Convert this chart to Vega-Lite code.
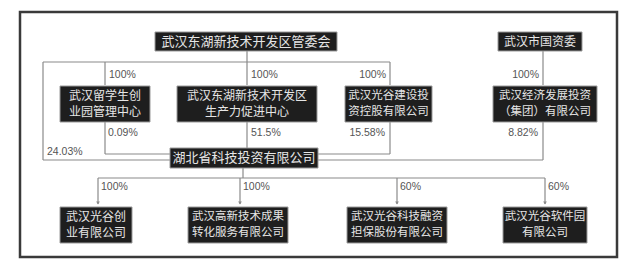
{
  "$schema": "https://vega.github.io/schema/vega-lite/v6.json",
  "width": 630,
  "height": 263,
  "padding": 0,
  "autosize": {"type": "fit", "contains": "padding"},
  "background": "#ffffff",
  "config": {"view": {"stroke": null}},
  "datasets": {
    "frame": [{"x": 20, "x2": 617, "y": 12, "y2": 257}],
    "lines": [
      {"x": 247, "x2": 247, "y": 51, "y2": 85},
      {"x": 43, "x2": 390, "y": 62, "y2": 62},
      {"x": 105, "x2": 105, "y": 62, "y2": 85},
      {"x": 390, "x2": 390, "y": 62, "y2": 85},
      {"x": 43, "x2": 43, "y": 62, "y2": 160},
      {"x": 43, "x2": 170, "y": 160, "y2": 160},
      {"x": 105, "x2": 105, "y": 122, "y2": 154},
      {"x": 105, "x2": 170, "y": 154, "y2": 154},
      {"x": 247, "x2": 247, "y": 122, "y2": 148},
      {"x": 390, "x2": 390, "y": 122, "y2": 154},
      {"x": 318, "x2": 390, "y": 154, "y2": 154},
      {"x": 543, "x2": 543, "y": 51, "y2": 85},
      {"x": 543, "x2": 543, "y": 122, "y2": 160},
      {"x": 318, "x2": 543, "y": 160, "y2": 160},
      {"x": 243, "x2": 243, "y": 168, "y2": 178},
      {"x": 98, "x2": 545, "y": 178, "y2": 178},
      {"x": 98, "x2": 98, "y": 178, "y2": 204},
      {"x": 240, "x2": 240, "y": 178, "y2": 204},
      {"x": 397, "x2": 397, "y": 178, "y2": 204},
      {"x": 545, "x2": 545, "y": 178, "y2": 204}
    ],
    "arrows": [
      {"x": 98, "y": 203},
      {"x": 240, "y": 203},
      {"x": 397, "y": 203},
      {"x": 545, "y": 203}
    ],
    "boxes": [
      {"x": 155, "x2": 337, "y": 32, "y2": 51, "cx": 246, "cy": 41.5, "n": 1, "l1": "武汉东湖新技术开发区管委会", "l2": "", "fs": 13},
      {"x": 498, "x2": 582, "y": 32, "y2": 51, "cx": 540, "cy": 41.5, "n": 1, "l1": "武汉市国资委", "l2": "", "fs": 12},
      {"x": 60, "x2": 150, "y": 86, "y2": 122, "cx": 105, "cy": 104, "n": 2, "l1": "武汉留学生创", "l2": "业园管理中心", "fs": 12},
      {"x": 177, "x2": 317, "y": 86, "y2": 122, "cx": 247, "cy": 104, "n": 2, "l1": "武汉东湖新技术开发区", "l2": "生产力促进中心", "fs": 12},
      {"x": 345, "x2": 432, "y": 86, "y2": 122, "cx": 388.5, "cy": 104, "n": 2, "l1": "武汉光谷建设投", "l2": "资控股有限公司", "fs": 11.5},
      {"x": 493, "x2": 597, "y": 86, "y2": 122, "cx": 545, "cy": 104, "n": 2, "l1": "武汉经济发展投资", "l2": "（集团）有限公司", "fs": 11.5},
      {"x": 170, "x2": 318, "y": 148, "y2": 168, "cx": 244, "cy": 158, "n": 1, "l1": "湖北省科技投资有限公司", "l2": "", "fs": 13},
      {"x": 60, "x2": 132, "y": 207, "y2": 243, "cx": 96, "cy": 225, "n": 2, "l1": "武汉光谷创", "l2": "业有限公司", "fs": 12},
      {"x": 188, "x2": 288, "y": 207, "y2": 243, "cx": 238, "cy": 225, "n": 2, "l1": "武汉高新技术成果", "l2": "转化服务有限公司", "fs": 11.5},
      {"x": 347, "x2": 447, "y": 207, "y2": 243, "cx": 397, "cy": 225, "n": 2, "l1": "武汉光谷科技融资", "l2": "担保股份有限公司", "fs": 11.5},
      {"x": 503, "x2": 587, "y": 207, "y2": 243, "cx": 545, "cy": 225, "n": 2, "l1": "武汉光谷软件园", "l2": "有限公司", "fs": 11.5}
    ],
    "pctLeft": [
      {"x": 109, "y": 75, "t": "100%"},
      {"x": 251, "y": 75, "t": "100%"},
      {"x": 108, "y": 133, "t": "0.09%"},
      {"x": 251, "y": 133, "t": "51.5%"},
      {"x": 47, "y": 152, "t": "24.03%"},
      {"x": 101, "y": 187, "t": "100%"},
      {"x": 243, "y": 187, "t": "100%"},
      {"x": 400, "y": 187, "t": "60%"},
      {"x": 548, "y": 187, "t": "60%"}
    ],
    "pctRight": [
      {"x": 386, "y": 75, "t": "100%"},
      {"x": 539, "y": 75, "t": "100%"},
      {"x": 385, "y": 133, "t": "15.58%"},
      {"x": 538, "y": 133, "t": "8.82%"}
    ]
  },
  "layer": [
    {
      "data": {"name": "frame"},
      "mark": {"type": "rect", "fill": null, "stroke": "#3a3a3a", "strokeWidth": 2.5},
      "encoding": {
        "x": {"field": "x", "type": "quantitative", "scale": {"domain": [0, 630], "nice": false, "zero": false}, "axis": null},
        "x2": {"field": "x2"},
        "y": {"field": "y", "type": "quantitative", "scale": {"domain": [263, 0], "nice": false, "zero": false}, "axis": null},
        "y2": {"field": "y2"}
      }
    },
    {
      "data": {"name": "lines"},
      "mark": {"type": "rule", "stroke": "#8a8a8a", "strokeWidth": 1.2},
      "encoding": {
        "x": {"field": "x", "type": "quantitative"},
        "x2": {"field": "x2"},
        "y": {"field": "y", "type": "quantitative"},
        "y2": {"field": "y2"}
      }
    },
    {
      "data": {"name": "arrows"},
      "mark": {"type": "point", "shape": "triangle-down", "filled": true, "color": "#8a8a8a", "size": 14, "opacity": 1},
      "encoding": {
        "x": {"field": "x", "type": "quantitative"},
        "y": {"field": "y", "type": "quantitative"}
      }
    },
    {
      "data": {"name": "boxes"},
      "mark": {"type": "rect", "fill": "#1e1e1e", "stroke": "#9a9a9a", "strokeWidth": 1},
      "encoding": {
        "x": {"field": "x", "type": "quantitative"},
        "x2": {"field": "x2"},
        "y": {"field": "y", "type": "quantitative"},
        "y2": {"field": "y2"}
      }
    },
    {
      "data": {"name": "boxes"},
      "transform": [{"filter": "datum.n == 1"}],
      "mark": {"type": "text", "color": "#e6e6e6", "font": "Noto Sans CJK SC", "align": "center", "baseline": "middle"},
      "encoding": {
        "x": {"field": "cx", "type": "quantitative"},
        "y": {"field": "cy", "type": "quantitative"},
        "text": {"field": "l1"},
        "size": {"field": "fs", "type": "quantitative", "scale": null}
      }
    },
    {
      "data": {"name": "boxes"},
      "transform": [{"filter": "datum.n == 2"}],
      "mark": {"type": "text", "color": "#e6e6e6", "font": "Noto Sans CJK SC", "align": "center", "baseline": "middle", "dy": -8},
      "encoding": {
        "x": {"field": "cx", "type": "quantitative"},
        "y": {"field": "cy", "type": "quantitative"},
        "text": {"field": "l1"},
        "size": {"field": "fs", "type": "quantitative", "scale": null}
      }
    },
    {
      "data": {"name": "boxes"},
      "transform": [{"filter": "datum.n == 2"}],
      "mark": {"type": "text", "color": "#e6e6e6", "font": "Noto Sans CJK SC", "align": "center", "baseline": "middle", "dy": 8},
      "encoding": {
        "x": {"field": "cx", "type": "quantitative"},
        "y": {"field": "cy", "type": "quantitative"},
        "text": {"field": "l2"},
        "size": {"field": "fs", "type": "quantitative", "scale": null}
      }
    },
    {
      "data": {"name": "pctLeft"},
      "mark": {"type": "text", "color": "#555555", "font": "Liberation Sans", "fontSize": 10.5, "align": "left", "baseline": "middle"},
      "encoding": {
        "x": {"field": "x", "type": "quantitative"},
        "y": {"field": "y", "type": "quantitative"},
        "text": {"field": "t"}
      }
    },
    {
      "data": {"name": "pctRight"},
      "mark": {"type": "text", "color": "#555555", "font": "Liberation Sans", "fontSize": 10.5, "align": "right", "baseline": "middle"},
      "encoding": {
        "x": {"field": "x", "type": "quantitative"},
        "y": {"field": "y", "type": "quantitative"},
        "text": {"field": "t"}
      }
    }
  ]
}
